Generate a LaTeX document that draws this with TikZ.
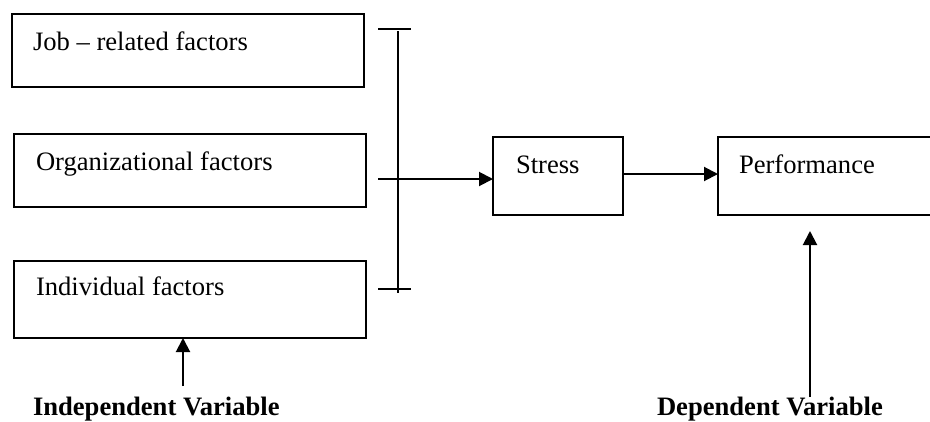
\documentclass[tikz,border=0pt]{standalone}
\usepackage{fontspec}
\setmainfont{Liberation Serif}
\usetikzlibrary{arrows.meta}
\begin{document}
\begin{tikzpicture}[x=1pt,y=-1pt,
  line width=2pt,
  box/.style={draw, line width=2pt, inner sep=0pt},
  lbl/.style={anchor=base west, inner sep=0pt, font=\fontsize{26.6}{30}\selectfont},
  blbl/.style={anchor=base west, inner sep=0pt, font=\fontsize{26.6}{30}\selectfont\bfseries},
  arr/.style={-{Triangle[length=14pt,width=14pt]}, line width=2pt}]
\useasboundingbox (0,0) rectangle (930,421);
% boxes
\draw[box] (12,14) rectangle (364,87);
\draw[box] (14,134) rectangle (366,207);
\draw[box] (14,261) rectangle (366,338);
\draw[box] (493,137) rectangle (623,215);
\draw[box] (718,137) rectangle (940,215);
% named anchors
\coordinate (stressW) at (493,179);
\coordinate (stressE) at (623,174);
\coordinate (perfW) at (718,174);
\coordinate (indB) at (183,338);
\coordinate (indS) at (183,386);
\coordinate (perfB) at (810,231);
\coordinate (depS) at (810,397);
\coordinate (brM) at (378,179);
% texts
\node[lbl] (t1) at (32,50) {Job -- related factors};
\node[lbl] (t2) at (35,170) {Organizational factors};
\node[lbl] (t3) at (35,295) {Individual factors};
\node[lbl] (t4) at (515,173) {Stress};
\node[lbl] (t5) at (738,173) {Performance};
\node[blbl] (iv) at (32,415) {Independent Variable};
\node[blbl] (dv) at (656,415) {Dependent Variable};
% bracket
\draw (378,29) -- (411,29);
\draw (378,289) -- (411,289);
\draw (398,31) -- (398,293);
% arrows
\draw[arr] (brM) -- (stressW);
\draw[arr] (stressE) -- (perfW);
\draw[arr] (indS) -- (indB);
\draw[arr] (depS) -- (perfB);
\end{tikzpicture}
\end{document}
